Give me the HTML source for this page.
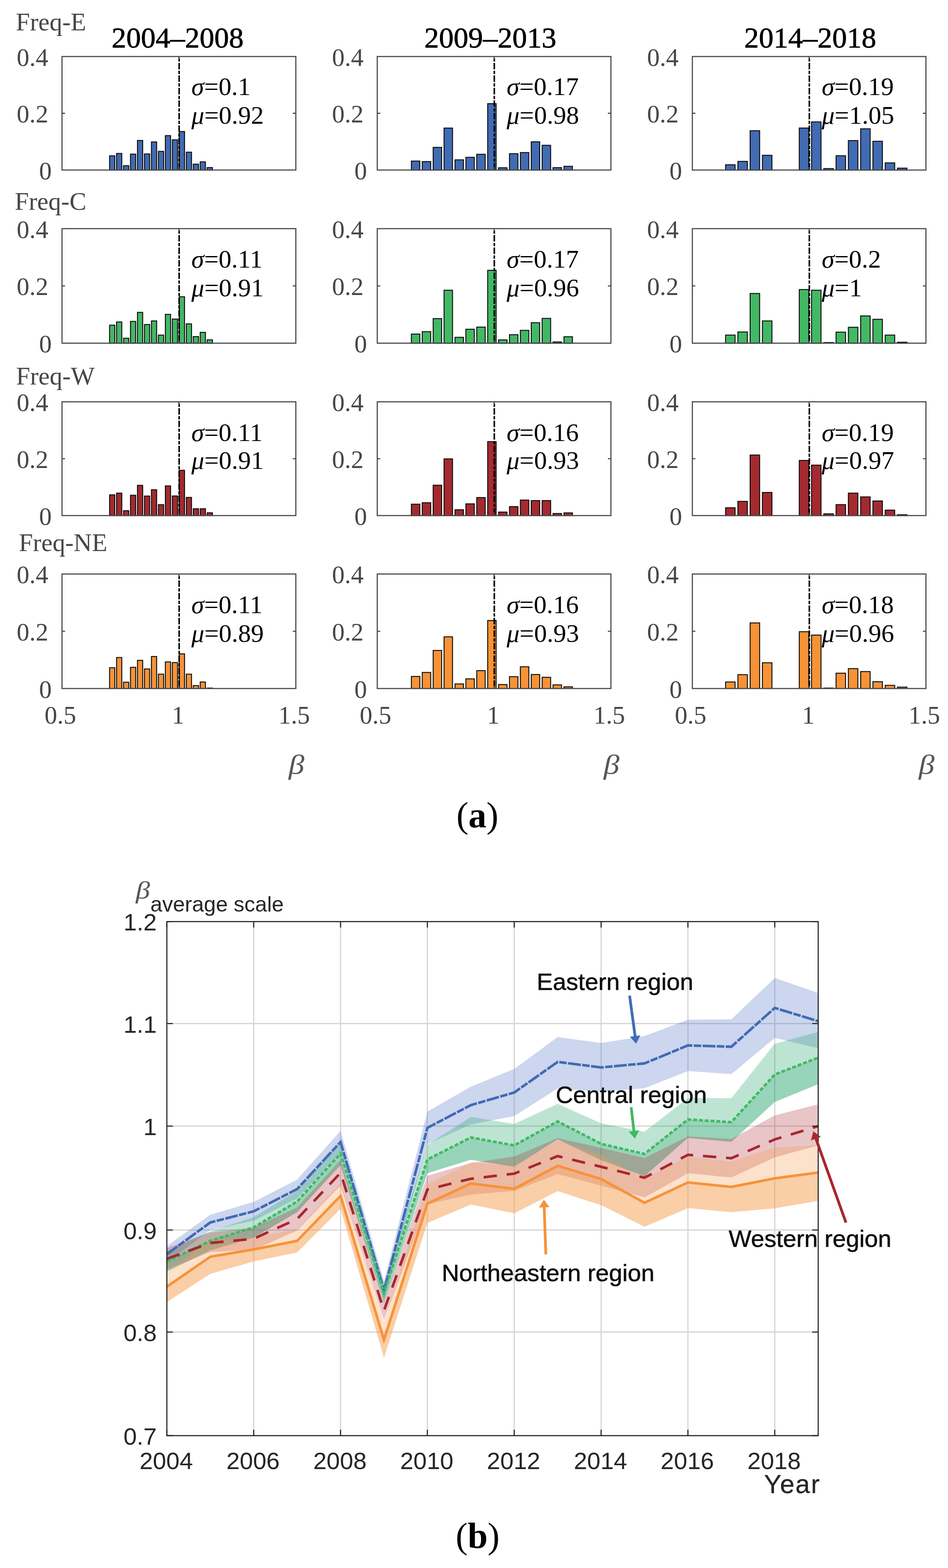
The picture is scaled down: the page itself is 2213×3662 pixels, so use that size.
<!DOCTYPE html>
<html><head><meta charset="utf-8"><title>Figure</title>
<style>html,body{margin:0;padding:0;background:#fff;overflow:hidden;width:2213px;height:3662px;} svg{display:block;}</style>
</head><body>
<svg width="2213" height="3662" viewBox="0 0 2213 3662">
<rect width="2213" height="3662" fill="#fff"/>
<g id="parta">
<rect x="255.8" y="363.9" width="12.2" height="33.2" fill="#416BB3" stroke="#0d0d0d" stroke-width="2.2"/>
<rect x="272.1" y="358.4" width="12.2" height="38.7" fill="#416BB3" stroke="#0d0d0d" stroke-width="2.2"/>
<rect x="288.4" y="387.0" width="12.2" height="10.1" fill="#416BB3" stroke="#0d0d0d" stroke-width="2.2"/>
<rect x="304.6" y="359.9" width="12.2" height="37.2" fill="#416BB3" stroke="#0d0d0d" stroke-width="2.2"/>
<rect x="320.9" y="328.0" width="12.2" height="69.1" fill="#416BB3" stroke="#0d0d0d" stroke-width="2.2"/>
<rect x="337.2" y="359.5" width="12.2" height="37.6" fill="#416BB3" stroke="#0d0d0d" stroke-width="2.2"/>
<rect x="353.5" y="331.5" width="12.2" height="65.6" fill="#416BB3" stroke="#0d0d0d" stroke-width="2.2"/>
<rect x="369.8" y="353.5" width="12.2" height="43.6" fill="#416BB3" stroke="#0d0d0d" stroke-width="2.2"/>
<rect x="386.0" y="316.7" width="12.2" height="80.4" fill="#416BB3" stroke="#0d0d0d" stroke-width="2.2"/>
<rect x="402.3" y="326.5" width="12.2" height="70.6" fill="#416BB3" stroke="#0d0d0d" stroke-width="2.2"/>
<rect x="418.6" y="307.1" width="12.2" height="90.0" fill="#416BB3" stroke="#0d0d0d" stroke-width="2.2"/>
<rect x="434.9" y="355.4" width="12.2" height="41.7" fill="#416BB3" stroke="#0d0d0d" stroke-width="2.2"/>
<rect x="451.2" y="383.4" width="12.2" height="13.7" fill="#416BB3" stroke="#0d0d0d" stroke-width="2.2"/>
<rect x="467.4" y="378.0" width="12.2" height="19.1" fill="#416BB3" stroke="#0d0d0d" stroke-width="2.2"/>
<rect x="483.7" y="391.3" width="12.2" height="5.8" fill="#416BB3" stroke="#0d0d0d" stroke-width="2.2"/>
<line x1="418.2" y1="132.0" x2="418.2" y2="397.1" stroke="#000" stroke-width="3.6" stroke-dasharray="7.7 3.1 15.1 3.3" stroke-dashoffset="-4.1"/>
<rect x="144.8" y="132.0" width="545.8" height="265.1" fill="none" stroke="#474747" stroke-width="2.6"/>
<path d="M144.8 264.6h7M690.6 264.6h-7M417.7 397.1v-7M417.7 132.0v7" stroke="#474747" stroke-width="2.6" fill="none"/>
<text x="112.8" y="153.5" text-anchor="end" font-family="'Liberation Serif', 'Times New Roman', serif" font-size="59" fill="#464646">0.4</text>
<text x="112.8" y="286.1" text-anchor="end" font-family="'Liberation Serif', 'Times New Roman', serif" font-size="59" fill="#464646">0.2</text>
<text x="120.8" y="418.6" text-anchor="end" font-family="'Liberation Serif', 'Times New Roman', serif" font-size="59" fill="#464646">0</text>
<text x="446.8" y="221.7" font-family="'Liberation Serif', 'Times New Roman', serif" font-size="60" fill="#000"><tspan font-style="italic">σ</tspan>=0.1</text>
<text x="446.8" y="288.5" font-family="'Liberation Serif', 'Times New Roman', serif" font-size="60" fill="#000"><tspan font-style="italic">μ</tspan>=0.92</text>
<rect x="960.3" y="376.2" width="19.8" height="20.9" fill="#416BB3" stroke="#0d0d0d" stroke-width="2.2"/>
<rect x="985.7" y="377.4" width="19.8" height="19.7" fill="#416BB3" stroke="#0d0d0d" stroke-width="2.2"/>
<rect x="1011.2" y="344.2" width="19.8" height="52.9" fill="#416BB3" stroke="#0d0d0d" stroke-width="2.2"/>
<rect x="1036.6" y="299.1" width="19.8" height="98.0" fill="#416BB3" stroke="#0d0d0d" stroke-width="2.2"/>
<rect x="1062.1" y="373.3" width="19.8" height="23.8" fill="#416BB3" stroke="#0d0d0d" stroke-width="2.2"/>
<rect x="1087.5" y="367.4" width="19.8" height="29.7" fill="#416BB3" stroke="#0d0d0d" stroke-width="2.2"/>
<rect x="1112.9" y="360.3" width="19.8" height="36.8" fill="#416BB3" stroke="#0d0d0d" stroke-width="2.2"/>
<rect x="1138.4" y="242.1" width="19.8" height="155.0" fill="#416BB3" stroke="#0d0d0d" stroke-width="2.2"/>
<rect x="1163.8" y="391.8" width="19.8" height="5.3" fill="#416BB3" stroke="#0d0d0d" stroke-width="2.2"/>
<rect x="1189.3" y="359.0" width="19.8" height="38.1" fill="#416BB3" stroke="#0d0d0d" stroke-width="2.2"/>
<rect x="1214.7" y="356.3" width="19.8" height="40.8" fill="#416BB3" stroke="#0d0d0d" stroke-width="2.2"/>
<rect x="1240.1" y="331.2" width="19.8" height="65.9" fill="#416BB3" stroke="#0d0d0d" stroke-width="2.2"/>
<rect x="1265.6" y="339.3" width="19.8" height="57.8" fill="#416BB3" stroke="#0d0d0d" stroke-width="2.2"/>
<rect x="1291.0" y="391.5" width="19.8" height="5.6" fill="#416BB3" stroke="#0d0d0d" stroke-width="2.2"/>
<rect x="1316.5" y="388.4" width="19.8" height="8.7" fill="#416BB3" stroke="#0d0d0d" stroke-width="2.2"/>
<line x1="1153.9" y1="132.0" x2="1153.9" y2="397.1" stroke="#000" stroke-width="3.6" stroke-dasharray="7.7 3.1 15.1 3.3" stroke-dashoffset="-4.1"/>
<rect x="880.7" y="132.0" width="545.4" height="265.1" fill="none" stroke="#474747" stroke-width="2.6"/>
<path d="M880.7 264.6h7M1426.1 264.6h-7M1153.4 397.1v-7M1153.4 132.0v7" stroke="#474747" stroke-width="2.6" fill="none"/>
<text x="848.7" y="153.5" text-anchor="end" font-family="'Liberation Serif', 'Times New Roman', serif" font-size="59" fill="#464646">0.4</text>
<text x="848.7" y="286.1" text-anchor="end" font-family="'Liberation Serif', 'Times New Roman', serif" font-size="59" fill="#464646">0.2</text>
<text x="856.7" y="418.6" text-anchor="end" font-family="'Liberation Serif', 'Times New Roman', serif" font-size="59" fill="#464646">0</text>
<text x="1182.7" y="221.7" font-family="'Liberation Serif', 'Times New Roman', serif" font-size="60" fill="#000"><tspan font-style="italic">σ</tspan>=0.17</text>
<text x="1182.7" y="288.5" font-family="'Liberation Serif', 'Times New Roman', serif" font-size="60" fill="#000"><tspan font-style="italic">μ</tspan>=0.98</text>
<rect x="1693.8" y="384.8" width="22.2" height="12.3" fill="#416BB3" stroke="#0d0d0d" stroke-width="2.2"/>
<rect x="1722.5" y="376.9" width="22.2" height="20.2" fill="#416BB3" stroke="#0d0d0d" stroke-width="2.2"/>
<rect x="1751.1" y="305.3" width="22.2" height="91.8" fill="#416BB3" stroke="#0d0d0d" stroke-width="2.2"/>
<rect x="1779.8" y="362.7" width="22.2" height="34.4" fill="#416BB3" stroke="#0d0d0d" stroke-width="2.2"/>
<rect x="1865.8" y="299.0" width="22.2" height="98.1" fill="#416BB3" stroke="#0d0d0d" stroke-width="2.2"/>
<rect x="1894.4" y="284.7" width="22.2" height="112.4" fill="#416BB3" stroke="#0d0d0d" stroke-width="2.2"/>
<rect x="1923.1" y="393.7" width="22.2" height="3.4" fill="#416BB3" stroke="#0d0d0d" stroke-width="2.2"/>
<rect x="1951.7" y="363.7" width="22.2" height="33.4" fill="#416BB3" stroke="#0d0d0d" stroke-width="2.2"/>
<rect x="1980.4" y="328.3" width="22.2" height="68.8" fill="#416BB3" stroke="#0d0d0d" stroke-width="2.2"/>
<rect x="2009.1" y="300.8" width="22.2" height="96.3" fill="#416BB3" stroke="#0d0d0d" stroke-width="2.2"/>
<rect x="2037.7" y="329.9" width="22.2" height="67.2" fill="#416BB3" stroke="#0d0d0d" stroke-width="2.2"/>
<rect x="2066.4" y="380.4" width="22.2" height="16.7" fill="#416BB3" stroke="#0d0d0d" stroke-width="2.2"/>
<rect x="2095.0" y="392.7" width="22.2" height="4.4" fill="#416BB3" stroke="#0d0d0d" stroke-width="2.2"/>
<line x1="1889.3" y1="132.0" x2="1889.3" y2="397.1" stroke="#000" stroke-width="3.6" stroke-dasharray="7.7 3.1 15.1 3.3" stroke-dashoffset="-4.1"/>
<rect x="1616.2" y="132.0" width="545.3" height="265.1" fill="none" stroke="#474747" stroke-width="2.6"/>
<path d="M1616.2 264.6h7M2161.5 264.6h-7M1888.8 397.1v-7M1888.8 132.0v7" stroke="#474747" stroke-width="2.6" fill="none"/>
<text x="1584.2" y="153.5" text-anchor="end" font-family="'Liberation Serif', 'Times New Roman', serif" font-size="59" fill="#464646">0.4</text>
<text x="1584.2" y="286.1" text-anchor="end" font-family="'Liberation Serif', 'Times New Roman', serif" font-size="59" fill="#464646">0.2</text>
<text x="1592.2" y="418.6" text-anchor="end" font-family="'Liberation Serif', 'Times New Roman', serif" font-size="59" fill="#464646">0</text>
<text x="1918.2" y="221.7" font-family="'Liberation Serif', 'Times New Roman', serif" font-size="60" fill="#000"><tspan font-style="italic">σ</tspan>=0.19</text>
<text x="1918.2" y="288.5" font-family="'Liberation Serif', 'Times New Roman', serif" font-size="60" fill="#000"><tspan font-style="italic">μ</tspan>=1.05</text>
<rect x="255.8" y="759.4" width="12.2" height="42.1" fill="#43B864" stroke="#0d0d0d" stroke-width="2.2"/>
<rect x="272.1" y="751.9" width="12.2" height="49.6" fill="#43B864" stroke="#0d0d0d" stroke-width="2.2"/>
<rect x="288.4" y="789.9" width="12.2" height="11.6" fill="#43B864" stroke="#0d0d0d" stroke-width="2.2"/>
<rect x="304.6" y="750.6" width="12.2" height="50.9" fill="#43B864" stroke="#0d0d0d" stroke-width="2.2"/>
<rect x="320.9" y="729.5" width="12.2" height="72.0" fill="#43B864" stroke="#0d0d0d" stroke-width="2.2"/>
<rect x="337.2" y="757.9" width="12.2" height="43.6" fill="#43B864" stroke="#0d0d0d" stroke-width="2.2"/>
<rect x="353.5" y="749.5" width="12.2" height="52.0" fill="#43B864" stroke="#0d0d0d" stroke-width="2.2"/>
<rect x="369.8" y="782.6" width="12.2" height="18.9" fill="#43B864" stroke="#0d0d0d" stroke-width="2.2"/>
<rect x="386.0" y="734.2" width="12.2" height="67.3" fill="#43B864" stroke="#0d0d0d" stroke-width="2.2"/>
<rect x="402.3" y="745.2" width="12.2" height="56.3" fill="#43B864" stroke="#0d0d0d" stroke-width="2.2"/>
<rect x="418.6" y="693.1" width="12.2" height="108.4" fill="#43B864" stroke="#0d0d0d" stroke-width="2.2"/>
<rect x="434.9" y="756.4" width="12.2" height="45.1" fill="#43B864" stroke="#0d0d0d" stroke-width="2.2"/>
<rect x="451.2" y="786.1" width="12.2" height="15.4" fill="#43B864" stroke="#0d0d0d" stroke-width="2.2"/>
<rect x="467.4" y="776.2" width="12.2" height="25.3" fill="#43B864" stroke="#0d0d0d" stroke-width="2.2"/>
<rect x="483.7" y="793.7" width="12.2" height="7.8" fill="#43B864" stroke="#0d0d0d" stroke-width="2.2"/>
<line x1="418.2" y1="534.0" x2="418.2" y2="801.5" stroke="#000" stroke-width="3.6" stroke-dasharray="7.7 3.1 15.1 3.3" stroke-dashoffset="-4.1"/>
<rect x="144.8" y="534.0" width="545.8" height="267.5" fill="none" stroke="#474747" stroke-width="2.6"/>
<path d="M144.8 667.8h7M690.6 667.8h-7M417.7 801.5v-7M417.7 534.0v7" stroke="#474747" stroke-width="2.6" fill="none"/>
<text x="112.8" y="555.5" text-anchor="end" font-family="'Liberation Serif', 'Times New Roman', serif" font-size="59" fill="#464646">0.4</text>
<text x="112.8" y="689.2" text-anchor="end" font-family="'Liberation Serif', 'Times New Roman', serif" font-size="59" fill="#464646">0.2</text>
<text x="120.8" y="823.0" text-anchor="end" font-family="'Liberation Serif', 'Times New Roman', serif" font-size="59" fill="#464646">0</text>
<text x="446.8" y="625.0" font-family="'Liberation Serif', 'Times New Roman', serif" font-size="60" fill="#000"><tspan font-style="italic">σ</tspan>=0.11</text>
<text x="446.8" y="692.0" font-family="'Liberation Serif', 'Times New Roman', serif" font-size="60" fill="#000"><tspan font-style="italic">μ</tspan>=0.91</text>
<rect x="960.3" y="780.2" width="19.8" height="21.3" fill="#43B864" stroke="#0d0d0d" stroke-width="2.2"/>
<rect x="985.7" y="774.6" width="19.8" height="26.9" fill="#43B864" stroke="#0d0d0d" stroke-width="2.2"/>
<rect x="1011.2" y="744.1" width="19.8" height="57.4" fill="#43B864" stroke="#0d0d0d" stroke-width="2.2"/>
<rect x="1036.6" y="677.8" width="19.8" height="123.7" fill="#43B864" stroke="#0d0d0d" stroke-width="2.2"/>
<rect x="1062.1" y="787.8" width="19.8" height="13.7" fill="#43B864" stroke="#0d0d0d" stroke-width="2.2"/>
<rect x="1087.5" y="768.9" width="19.8" height="32.6" fill="#43B864" stroke="#0d0d0d" stroke-width="2.2"/>
<rect x="1112.9" y="763.9" width="19.8" height="37.6" fill="#43B864" stroke="#0d0d0d" stroke-width="2.2"/>
<rect x="1138.4" y="631.3" width="19.8" height="170.2" fill="#43B864" stroke="#0d0d0d" stroke-width="2.2"/>
<rect x="1163.8" y="793.8" width="19.8" height="7.7" fill="#43B864" stroke="#0d0d0d" stroke-width="2.2"/>
<rect x="1189.3" y="781.6" width="19.8" height="19.9" fill="#43B864" stroke="#0d0d0d" stroke-width="2.2"/>
<rect x="1214.7" y="771.5" width="19.8" height="30.0" fill="#43B864" stroke="#0d0d0d" stroke-width="2.2"/>
<rect x="1240.1" y="753.7" width="19.8" height="47.8" fill="#43B864" stroke="#0d0d0d" stroke-width="2.2"/>
<rect x="1265.6" y="743.6" width="19.8" height="57.9" fill="#43B864" stroke="#0d0d0d" stroke-width="2.2"/>
<rect x="1291.0" y="798.6" width="19.8" height="2.9" fill="#43B864" stroke="#0d0d0d" stroke-width="2.2"/>
<rect x="1316.5" y="786.4" width="19.8" height="15.1" fill="#43B864" stroke="#0d0d0d" stroke-width="2.2"/>
<line x1="1153.9" y1="534.0" x2="1153.9" y2="801.5" stroke="#000" stroke-width="3.6" stroke-dasharray="7.7 3.1 15.1 3.3" stroke-dashoffset="-4.1"/>
<rect x="880.7" y="534.0" width="545.4" height="267.5" fill="none" stroke="#474747" stroke-width="2.6"/>
<path d="M880.7 667.8h7M1426.1 667.8h-7M1153.4 801.5v-7M1153.4 534.0v7" stroke="#474747" stroke-width="2.6" fill="none"/>
<text x="848.7" y="555.5" text-anchor="end" font-family="'Liberation Serif', 'Times New Roman', serif" font-size="59" fill="#464646">0.4</text>
<text x="848.7" y="689.2" text-anchor="end" font-family="'Liberation Serif', 'Times New Roman', serif" font-size="59" fill="#464646">0.2</text>
<text x="856.7" y="823.0" text-anchor="end" font-family="'Liberation Serif', 'Times New Roman', serif" font-size="59" fill="#464646">0</text>
<text x="1182.7" y="625.0" font-family="'Liberation Serif', 'Times New Roman', serif" font-size="60" fill="#000"><tspan font-style="italic">σ</tspan>=0.17</text>
<text x="1182.7" y="692.0" font-family="'Liberation Serif', 'Times New Roman', serif" font-size="60" fill="#000"><tspan font-style="italic">μ</tspan>=0.96</text>
<rect x="1693.8" y="782.6" width="22.2" height="18.9" fill="#43B864" stroke="#0d0d0d" stroke-width="2.2"/>
<rect x="1722.5" y="775.3" width="22.2" height="26.2" fill="#43B864" stroke="#0d0d0d" stroke-width="2.2"/>
<rect x="1751.1" y="685.4" width="22.2" height="116.1" fill="#43B864" stroke="#0d0d0d" stroke-width="2.2"/>
<rect x="1779.8" y="749.5" width="22.2" height="52.0" fill="#43B864" stroke="#0d0d0d" stroke-width="2.2"/>
<rect x="1865.8" y="676.2" width="22.2" height="125.3" fill="#43B864" stroke="#0d0d0d" stroke-width="2.2"/>
<rect x="1894.4" y="677.8" width="22.2" height="123.7" fill="#43B864" stroke="#0d0d0d" stroke-width="2.2"/>
<rect x="1922.0" y="798.9" width="24.4" height="2.6" fill="#111"/>
<rect x="1951.7" y="775.7" width="22.2" height="25.8" fill="#43B864" stroke="#0d0d0d" stroke-width="2.2"/>
<rect x="1980.4" y="764.3" width="22.2" height="37.2" fill="#43B864" stroke="#0d0d0d" stroke-width="2.2"/>
<rect x="2009.1" y="737.8" width="22.2" height="63.7" fill="#43B864" stroke="#0d0d0d" stroke-width="2.2"/>
<rect x="2037.7" y="745.7" width="22.2" height="55.8" fill="#43B864" stroke="#0d0d0d" stroke-width="2.2"/>
<rect x="2066.4" y="782.6" width="22.2" height="18.9" fill="#43B864" stroke="#0d0d0d" stroke-width="2.2"/>
<rect x="2095.0" y="799.3" width="22.2" height="2.2" fill="#43B864" stroke="#0d0d0d" stroke-width="2.2"/>
<line x1="1889.3" y1="534.0" x2="1889.3" y2="801.5" stroke="#000" stroke-width="3.6" stroke-dasharray="7.7 3.1 15.1 3.3" stroke-dashoffset="-4.1"/>
<rect x="1616.2" y="534.0" width="545.3" height="267.5" fill="none" stroke="#474747" stroke-width="2.6"/>
<path d="M1616.2 667.8h7M2161.5 667.8h-7M1888.8 801.5v-7M1888.8 534.0v7" stroke="#474747" stroke-width="2.6" fill="none"/>
<text x="1584.2" y="555.5" text-anchor="end" font-family="'Liberation Serif', 'Times New Roman', serif" font-size="59" fill="#464646">0.4</text>
<text x="1584.2" y="689.2" text-anchor="end" font-family="'Liberation Serif', 'Times New Roman', serif" font-size="59" fill="#464646">0.2</text>
<text x="1592.2" y="823.0" text-anchor="end" font-family="'Liberation Serif', 'Times New Roman', serif" font-size="59" fill="#464646">0</text>
<text x="1918.2" y="625.0" font-family="'Liberation Serif', 'Times New Roman', serif" font-size="60" fill="#000"><tspan font-style="italic">σ</tspan>=0.2</text>
<text x="1918.2" y="692.0" font-family="'Liberation Serif', 'Times New Roman', serif" font-size="60" fill="#000"><tspan font-style="italic">μ</tspan>=1</text>
<rect x="255.8" y="1155.7" width="12.2" height="48.4" fill="#A42A30" stroke="#0d0d0d" stroke-width="2.2"/>
<rect x="272.1" y="1151.7" width="12.2" height="52.4" fill="#A42A30" stroke="#0d0d0d" stroke-width="2.2"/>
<rect x="288.4" y="1192.7" width="12.2" height="11.4" fill="#A42A30" stroke="#0d0d0d" stroke-width="2.2"/>
<rect x="304.6" y="1156.6" width="12.2" height="47.5" fill="#A42A30" stroke="#0d0d0d" stroke-width="2.2"/>
<rect x="320.9" y="1133.5" width="12.2" height="70.6" fill="#A42A30" stroke="#0d0d0d" stroke-width="2.2"/>
<rect x="337.2" y="1158.5" width="12.2" height="45.6" fill="#A42A30" stroke="#0d0d0d" stroke-width="2.2"/>
<rect x="353.5" y="1143.8" width="12.2" height="60.3" fill="#A42A30" stroke="#0d0d0d" stroke-width="2.2"/>
<rect x="369.8" y="1178.6" width="12.2" height="25.5" fill="#A42A30" stroke="#0d0d0d" stroke-width="2.2"/>
<rect x="386.0" y="1134.8" width="12.2" height="69.3" fill="#A42A30" stroke="#0d0d0d" stroke-width="2.2"/>
<rect x="402.3" y="1158.3" width="12.2" height="45.8" fill="#A42A30" stroke="#0d0d0d" stroke-width="2.2"/>
<rect x="418.6" y="1098.3" width="12.2" height="105.8" fill="#A42A30" stroke="#0d0d0d" stroke-width="2.2"/>
<rect x="434.9" y="1161.7" width="12.2" height="42.4" fill="#A42A30" stroke="#0d0d0d" stroke-width="2.2"/>
<rect x="451.2" y="1188.2" width="12.2" height="15.9" fill="#A42A30" stroke="#0d0d0d" stroke-width="2.2"/>
<rect x="467.4" y="1188.2" width="12.2" height="15.9" fill="#A42A30" stroke="#0d0d0d" stroke-width="2.2"/>
<rect x="483.7" y="1197.6" width="12.2" height="6.5" fill="#A42A30" stroke="#0d0d0d" stroke-width="2.2"/>
<line x1="418.2" y1="938.4" x2="418.2" y2="1204.1" stroke="#000" stroke-width="3.6" stroke-dasharray="7.7 3.1 15.1 3.3" stroke-dashoffset="-4.1"/>
<rect x="144.8" y="938.4" width="545.8" height="265.7" fill="none" stroke="#474747" stroke-width="2.6"/>
<path d="M144.8 1071.2h7M690.6 1071.2h-7M417.7 1204.1v-7M417.7 938.4v7" stroke="#474747" stroke-width="2.6" fill="none"/>
<text x="112.8" y="959.9" text-anchor="end" font-family="'Liberation Serif', 'Times New Roman', serif" font-size="59" fill="#464646">0.4</text>
<text x="112.8" y="1092.8" text-anchor="end" font-family="'Liberation Serif', 'Times New Roman', serif" font-size="59" fill="#464646">0.2</text>
<text x="120.8" y="1225.6" text-anchor="end" font-family="'Liberation Serif', 'Times New Roman', serif" font-size="59" fill="#464646">0</text>
<text x="446.8" y="1029.7" font-family="'Liberation Serif', 'Times New Roman', serif" font-size="60" fill="#000"><tspan font-style="italic">σ</tspan>=0.11</text>
<text x="446.8" y="1094.8" font-family="'Liberation Serif', 'Times New Roman', serif" font-size="60" fill="#000"><tspan font-style="italic">μ</tspan>=0.91</text>
<rect x="960.3" y="1177.5" width="19.8" height="26.6" fill="#A42A30" stroke="#0d0d0d" stroke-width="2.2"/>
<rect x="985.7" y="1174.1" width="19.8" height="30.0" fill="#A42A30" stroke="#0d0d0d" stroke-width="2.2"/>
<rect x="1011.2" y="1133.2" width="19.8" height="70.9" fill="#A42A30" stroke="#0d0d0d" stroke-width="2.2"/>
<rect x="1036.6" y="1071.7" width="19.8" height="132.4" fill="#A42A30" stroke="#0d0d0d" stroke-width="2.2"/>
<rect x="1062.1" y="1190.5" width="19.8" height="13.6" fill="#A42A30" stroke="#0d0d0d" stroke-width="2.2"/>
<rect x="1087.5" y="1176.7" width="19.8" height="27.4" fill="#A42A30" stroke="#0d0d0d" stroke-width="2.2"/>
<rect x="1112.9" y="1162.0" width="19.8" height="42.1" fill="#A42A30" stroke="#0d0d0d" stroke-width="2.2"/>
<rect x="1138.4" y="1031.4" width="19.8" height="172.7" fill="#A42A30" stroke="#0d0d0d" stroke-width="2.2"/>
<rect x="1163.8" y="1195.9" width="19.8" height="8.2" fill="#A42A30" stroke="#0d0d0d" stroke-width="2.2"/>
<rect x="1189.3" y="1183.2" width="19.8" height="20.9" fill="#A42A30" stroke="#0d0d0d" stroke-width="2.2"/>
<rect x="1214.7" y="1167.9" width="19.8" height="36.2" fill="#A42A30" stroke="#0d0d0d" stroke-width="2.2"/>
<rect x="1240.1" y="1169.1" width="19.8" height="35.0" fill="#A42A30" stroke="#0d0d0d" stroke-width="2.2"/>
<rect x="1265.6" y="1169.1" width="19.8" height="35.0" fill="#A42A30" stroke="#0d0d0d" stroke-width="2.2"/>
<rect x="1291.0" y="1199.3" width="19.8" height="4.8" fill="#A42A30" stroke="#0d0d0d" stroke-width="2.2"/>
<rect x="1316.5" y="1197.8" width="19.8" height="6.3" fill="#A42A30" stroke="#0d0d0d" stroke-width="2.2"/>
<line x1="1153.9" y1="938.4" x2="1153.9" y2="1204.1" stroke="#000" stroke-width="3.6" stroke-dasharray="7.7 3.1 15.1 3.3" stroke-dashoffset="-4.1"/>
<rect x="880.7" y="938.4" width="545.4" height="265.7" fill="none" stroke="#474747" stroke-width="2.6"/>
<path d="M880.7 1071.2h7M1426.1 1071.2h-7M1153.4 1204.1v-7M1153.4 938.4v7" stroke="#474747" stroke-width="2.6" fill="none"/>
<text x="848.7" y="959.9" text-anchor="end" font-family="'Liberation Serif', 'Times New Roman', serif" font-size="59" fill="#464646">0.4</text>
<text x="848.7" y="1092.8" text-anchor="end" font-family="'Liberation Serif', 'Times New Roman', serif" font-size="59" fill="#464646">0.2</text>
<text x="856.7" y="1225.6" text-anchor="end" font-family="'Liberation Serif', 'Times New Roman', serif" font-size="59" fill="#464646">0</text>
<text x="1182.7" y="1029.7" font-family="'Liberation Serif', 'Times New Roman', serif" font-size="60" fill="#000"><tspan font-style="italic">σ</tspan>=0.16</text>
<text x="1182.7" y="1094.8" font-family="'Liberation Serif', 'Times New Roman', serif" font-size="60" fill="#000"><tspan font-style="italic">μ</tspan>=0.93</text>
<rect x="1693.8" y="1185.8" width="22.2" height="18.3" fill="#A42A30" stroke="#0d0d0d" stroke-width="2.2"/>
<rect x="1722.5" y="1170.9" width="22.2" height="33.2" fill="#A42A30" stroke="#0d0d0d" stroke-width="2.2"/>
<rect x="1751.1" y="1062.7" width="22.2" height="141.4" fill="#A42A30" stroke="#0d0d0d" stroke-width="2.2"/>
<rect x="1779.8" y="1150.1" width="22.2" height="54.0" fill="#A42A30" stroke="#0d0d0d" stroke-width="2.2"/>
<rect x="1865.8" y="1075.3" width="22.2" height="128.8" fill="#A42A30" stroke="#0d0d0d" stroke-width="2.2"/>
<rect x="1894.4" y="1086.3" width="22.2" height="117.8" fill="#A42A30" stroke="#0d0d0d" stroke-width="2.2"/>
<rect x="1923.1" y="1200.0" width="22.2" height="4.1" fill="#A42A30" stroke="#0d0d0d" stroke-width="2.2"/>
<rect x="1951.7" y="1178.5" width="22.2" height="25.6" fill="#A42A30" stroke="#0d0d0d" stroke-width="2.2"/>
<rect x="1980.4" y="1151.7" width="22.2" height="52.4" fill="#A42A30" stroke="#0d0d0d" stroke-width="2.2"/>
<rect x="2009.1" y="1160.5" width="22.2" height="43.6" fill="#A42A30" stroke="#0d0d0d" stroke-width="2.2"/>
<rect x="2037.7" y="1170.0" width="22.2" height="34.1" fill="#A42A30" stroke="#0d0d0d" stroke-width="2.2"/>
<rect x="2066.4" y="1191.4" width="22.2" height="12.7" fill="#A42A30" stroke="#0d0d0d" stroke-width="2.2"/>
<rect x="2095.0" y="1202.2" width="22.2" height="1.9" fill="#A42A30" stroke="#0d0d0d" stroke-width="2.2"/>
<line x1="1889.3" y1="938.4" x2="1889.3" y2="1204.1" stroke="#000" stroke-width="3.6" stroke-dasharray="7.7 3.1 15.1 3.3" stroke-dashoffset="-4.1"/>
<rect x="1616.2" y="938.4" width="545.3" height="265.7" fill="none" stroke="#474747" stroke-width="2.6"/>
<path d="M1616.2 1071.2h7M2161.5 1071.2h-7M1888.8 1204.1v-7M1888.8 938.4v7" stroke="#474747" stroke-width="2.6" fill="none"/>
<text x="1584.2" y="959.9" text-anchor="end" font-family="'Liberation Serif', 'Times New Roman', serif" font-size="59" fill="#464646">0.4</text>
<text x="1584.2" y="1092.8" text-anchor="end" font-family="'Liberation Serif', 'Times New Roman', serif" font-size="59" fill="#464646">0.2</text>
<text x="1592.2" y="1225.6" text-anchor="end" font-family="'Liberation Serif', 'Times New Roman', serif" font-size="59" fill="#464646">0</text>
<text x="1918.2" y="1029.7" font-family="'Liberation Serif', 'Times New Roman', serif" font-size="60" fill="#000"><tspan font-style="italic">σ</tspan>=0.19</text>
<text x="1918.2" y="1094.8" font-family="'Liberation Serif', 'Times New Roman', serif" font-size="60" fill="#000"><tspan font-style="italic">μ</tspan>=0.97</text>
<rect x="255.8" y="1559.5" width="12.2" height="48.5" fill="#F79336" stroke="#0d0d0d" stroke-width="2.2"/>
<rect x="272.1" y="1535.6" width="12.2" height="72.4" fill="#F79336" stroke="#0d0d0d" stroke-width="2.2"/>
<rect x="288.4" y="1593.3" width="12.2" height="14.7" fill="#F79336" stroke="#0d0d0d" stroke-width="2.2"/>
<rect x="304.6" y="1558.5" width="12.2" height="49.5" fill="#F79336" stroke="#0d0d0d" stroke-width="2.2"/>
<rect x="320.9" y="1542.2" width="12.2" height="65.8" fill="#F79336" stroke="#0d0d0d" stroke-width="2.2"/>
<rect x="337.2" y="1562.3" width="12.2" height="45.7" fill="#F79336" stroke="#0d0d0d" stroke-width="2.2"/>
<rect x="353.5" y="1533.2" width="12.2" height="74.8" fill="#F79336" stroke="#0d0d0d" stroke-width="2.2"/>
<rect x="369.8" y="1574.5" width="12.2" height="33.5" fill="#F79336" stroke="#0d0d0d" stroke-width="2.2"/>
<rect x="386.0" y="1545.9" width="12.2" height="62.1" fill="#F79336" stroke="#0d0d0d" stroke-width="2.2"/>
<rect x="402.3" y="1547.4" width="12.2" height="60.6" fill="#F79336" stroke="#0d0d0d" stroke-width="2.2"/>
<rect x="418.6" y="1527.1" width="12.2" height="80.9" fill="#F79336" stroke="#0d0d0d" stroke-width="2.2"/>
<rect x="434.9" y="1574.5" width="12.2" height="33.5" fill="#F79336" stroke="#0d0d0d" stroke-width="2.2"/>
<rect x="451.2" y="1601.2" width="12.2" height="6.8" fill="#F79336" stroke="#0d0d0d" stroke-width="2.2"/>
<rect x="467.4" y="1592.8" width="12.2" height="15.2" fill="#F79336" stroke="#0d0d0d" stroke-width="2.2"/>
<rect x="482.6" y="1605.8" width="14.4" height="2.2" fill="#111"/>
<line x1="418.2" y1="1340.6" x2="418.2" y2="1608.0" stroke="#000" stroke-width="3.6" stroke-dasharray="7.7 3.1 15.1 3.3" stroke-dashoffset="-4.1"/>
<rect x="144.8" y="1340.6" width="545.8" height="267.4" fill="none" stroke="#474747" stroke-width="2.6"/>
<path d="M144.8 1474.3h7M690.6 1474.3h-7M417.7 1608.0v-7M417.7 1340.6v7" stroke="#474747" stroke-width="2.6" fill="none"/>
<text x="112.8" y="1362.1" text-anchor="end" font-family="'Liberation Serif', 'Times New Roman', serif" font-size="59" fill="#464646">0.4</text>
<text x="112.8" y="1495.8" text-anchor="end" font-family="'Liberation Serif', 'Times New Roman', serif" font-size="59" fill="#464646">0.2</text>
<text x="120.8" y="1629.5" text-anchor="end" font-family="'Liberation Serif', 'Times New Roman', serif" font-size="59" fill="#464646">0</text>
<text x="446.8" y="1432.1" font-family="'Liberation Serif', 'Times New Roman', serif" font-size="60" fill="#000"><tspan font-style="italic">σ</tspan>=0.11</text>
<text x="446.8" y="1499.3" font-family="'Liberation Serif', 'Times New Roman', serif" font-size="60" fill="#000"><tspan font-style="italic">μ</tspan>=0.89</text>
<rect x="960.3" y="1579.8" width="19.8" height="28.2" fill="#F79336" stroke="#0d0d0d" stroke-width="2.2"/>
<rect x="985.7" y="1570.5" width="19.8" height="37.5" fill="#F79336" stroke="#0d0d0d" stroke-width="2.2"/>
<rect x="1011.2" y="1519.1" width="19.8" height="88.9" fill="#F79336" stroke="#0d0d0d" stroke-width="2.2"/>
<rect x="1036.6" y="1487.3" width="19.8" height="120.7" fill="#F79336" stroke="#0d0d0d" stroke-width="2.2"/>
<rect x="1062.1" y="1597.3" width="19.8" height="10.7" fill="#F79336" stroke="#0d0d0d" stroke-width="2.2"/>
<rect x="1087.5" y="1585.4" width="19.8" height="22.6" fill="#F79336" stroke="#0d0d0d" stroke-width="2.2"/>
<rect x="1112.9" y="1566.2" width="19.8" height="41.8" fill="#F79336" stroke="#0d0d0d" stroke-width="2.2"/>
<rect x="1138.4" y="1449.2" width="19.8" height="158.8" fill="#F79336" stroke="#0d0d0d" stroke-width="2.2"/>
<rect x="1163.8" y="1598.7" width="19.8" height="9.3" fill="#F79336" stroke="#0d0d0d" stroke-width="2.2"/>
<rect x="1189.3" y="1580.4" width="19.8" height="27.6" fill="#F79336" stroke="#0d0d0d" stroke-width="2.2"/>
<rect x="1214.7" y="1557.2" width="19.8" height="50.8" fill="#F79336" stroke="#0d0d0d" stroke-width="2.2"/>
<rect x="1240.1" y="1575.3" width="19.8" height="32.7" fill="#F79336" stroke="#0d0d0d" stroke-width="2.2"/>
<rect x="1265.6" y="1581.8" width="19.8" height="26.2" fill="#F79336" stroke="#0d0d0d" stroke-width="2.2"/>
<rect x="1291.0" y="1599.5" width="19.8" height="8.5" fill="#F79336" stroke="#0d0d0d" stroke-width="2.2"/>
<rect x="1316.5" y="1604.1" width="19.8" height="3.9" fill="#F79336" stroke="#0d0d0d" stroke-width="2.2"/>
<line x1="1153.9" y1="1340.6" x2="1153.9" y2="1608.0" stroke="#000" stroke-width="3.6" stroke-dasharray="7.7 3.1 15.1 3.3" stroke-dashoffset="-4.1"/>
<rect x="880.7" y="1340.6" width="545.4" height="267.4" fill="none" stroke="#474747" stroke-width="2.6"/>
<path d="M880.7 1474.3h7M1426.1 1474.3h-7M1153.4 1608.0v-7M1153.4 1340.6v7" stroke="#474747" stroke-width="2.6" fill="none"/>
<text x="848.7" y="1362.1" text-anchor="end" font-family="'Liberation Serif', 'Times New Roman', serif" font-size="59" fill="#464646">0.4</text>
<text x="848.7" y="1495.8" text-anchor="end" font-family="'Liberation Serif', 'Times New Roman', serif" font-size="59" fill="#464646">0.2</text>
<text x="856.7" y="1629.5" text-anchor="end" font-family="'Liberation Serif', 'Times New Roman', serif" font-size="59" fill="#464646">0</text>
<text x="1182.7" y="1432.1" font-family="'Liberation Serif', 'Times New Roman', serif" font-size="60" fill="#000"><tspan font-style="italic">σ</tspan>=0.16</text>
<text x="1182.7" y="1499.3" font-family="'Liberation Serif', 'Times New Roman', serif" font-size="60" fill="#000"><tspan font-style="italic">μ</tspan>=0.93</text>
<rect x="1693.8" y="1592.7" width="22.2" height="15.3" fill="#F79336" stroke="#0d0d0d" stroke-width="2.2"/>
<rect x="1722.5" y="1575.7" width="22.2" height="32.3" fill="#F79336" stroke="#0d0d0d" stroke-width="2.2"/>
<rect x="1751.1" y="1454.8" width="22.2" height="153.2" fill="#F79336" stroke="#0d0d0d" stroke-width="2.2"/>
<rect x="1779.8" y="1547.9" width="22.2" height="60.1" fill="#F79336" stroke="#0d0d0d" stroke-width="2.2"/>
<rect x="1865.8" y="1475.3" width="22.2" height="132.7" fill="#F79336" stroke="#0d0d0d" stroke-width="2.2"/>
<rect x="1894.4" y="1483.2" width="22.2" height="124.8" fill="#F79336" stroke="#0d0d0d" stroke-width="2.2"/>
<rect x="1922.0" y="1605.8" width="24.4" height="2.2" fill="#111"/>
<rect x="1951.7" y="1572.2" width="22.2" height="35.8" fill="#F79336" stroke="#0d0d0d" stroke-width="2.2"/>
<rect x="1980.4" y="1561.5" width="22.2" height="46.5" fill="#F79336" stroke="#0d0d0d" stroke-width="2.2"/>
<rect x="2009.1" y="1568.4" width="22.2" height="39.6" fill="#F79336" stroke="#0d0d0d" stroke-width="2.2"/>
<rect x="2037.7" y="1592.1" width="22.2" height="15.9" fill="#F79336" stroke="#0d0d0d" stroke-width="2.2"/>
<rect x="2066.4" y="1600.6" width="22.2" height="7.4" fill="#F79336" stroke="#0d0d0d" stroke-width="2.2"/>
<rect x="2095.0" y="1604.7" width="22.2" height="3.3" fill="#F79336" stroke="#0d0d0d" stroke-width="2.2"/>
<line x1="1889.3" y1="1340.6" x2="1889.3" y2="1608.0" stroke="#000" stroke-width="3.6" stroke-dasharray="7.7 3.1 15.1 3.3" stroke-dashoffset="-4.1"/>
<rect x="1616.2" y="1340.6" width="545.3" height="267.4" fill="none" stroke="#474747" stroke-width="2.6"/>
<path d="M1616.2 1474.3h7M2161.5 1474.3h-7M1888.8 1608.0v-7M1888.8 1340.6v7" stroke="#474747" stroke-width="2.6" fill="none"/>
<text x="1584.2" y="1362.1" text-anchor="end" font-family="'Liberation Serif', 'Times New Roman', serif" font-size="59" fill="#464646">0.4</text>
<text x="1584.2" y="1495.8" text-anchor="end" font-family="'Liberation Serif', 'Times New Roman', serif" font-size="59" fill="#464646">0.2</text>
<text x="1592.2" y="1629.5" text-anchor="end" font-family="'Liberation Serif', 'Times New Roman', serif" font-size="59" fill="#464646">0</text>
<text x="1918.2" y="1432.1" font-family="'Liberation Serif', 'Times New Roman', serif" font-size="60" fill="#000"><tspan font-style="italic">σ</tspan>=0.18</text>
<text x="1918.2" y="1499.3" font-family="'Liberation Serif', 'Times New Roman', serif" font-size="60" fill="#000"><tspan font-style="italic">μ</tspan>=0.96</text>
<text x="37.1" y="70.8" font-family="'Liberation Serif', 'Times New Roman', serif" font-size="59" fill="#464646">Freq-E</text>
<text x="34.4" y="490.0" font-family="'Liberation Serif', 'Times New Roman', serif" font-size="59" fill="#464646">Freq-C</text>
<text x="37.4" y="897.6" font-family="'Liberation Serif', 'Times New Roman', serif" font-size="59" fill="#464646">Freq-W</text>
<text x="44.0" y="1287.0" font-family="'Liberation Serif', 'Times New Roman', serif" font-size="59" fill="#464646">Freq-NE</text>
<text x="414.7" y="111" text-anchor="middle" font-family="'Liberation Serif', 'Times New Roman', serif" font-size="68.5" fill="#000" stroke="#000" stroke-width="0.9">2004–2008</text>
<text x="1144.5" y="111" text-anchor="middle" font-family="'Liberation Serif', 'Times New Roman', serif" font-size="68.5" fill="#000" stroke="#000" stroke-width="0.9">2009–2013</text>
<text x="1891.4" y="111" text-anchor="middle" font-family="'Liberation Serif', 'Times New Roman', serif" font-size="68.5" fill="#000" stroke="#000" stroke-width="0.9">2014–2018</text>
<text x="140.8" y="1689.7" text-anchor="middle" font-family="'Liberation Serif', 'Times New Roman', serif" font-size="59" fill="#464646">0.5</text>
<text x="415.7" y="1689.7" text-anchor="middle" font-family="'Liberation Serif', 'Times New Roman', serif" font-size="59" fill="#464646">1</text>
<text x="686.6" y="1689.7" text-anchor="middle" font-family="'Liberation Serif', 'Times New Roman', serif" font-size="59" fill="#464646">1.5</text>
<text transform="translate(692.1 1807) scale(1.15 1)" text-anchor="middle" font-family="'Liberation Serif', 'Times New Roman', serif" font-style="italic" font-size="64" fill="#555">β</text>
<text x="876.7" y="1689.7" text-anchor="middle" font-family="'Liberation Serif', 'Times New Roman', serif" font-size="59" fill="#464646">0.5</text>
<text x="1151.4" y="1689.7" text-anchor="middle" font-family="'Liberation Serif', 'Times New Roman', serif" font-size="59" fill="#464646">1</text>
<text x="1422.1" y="1689.7" text-anchor="middle" font-family="'Liberation Serif', 'Times New Roman', serif" font-size="59" fill="#464646">1.5</text>
<text transform="translate(1427.6 1807) scale(1.15 1)" text-anchor="middle" font-family="'Liberation Serif', 'Times New Roman', serif" font-style="italic" font-size="64" fill="#555">β</text>
<text x="1612.2" y="1689.7" text-anchor="middle" font-family="'Liberation Serif', 'Times New Roman', serif" font-size="59" fill="#464646">0.5</text>
<text x="1886.8" y="1689.7" text-anchor="middle" font-family="'Liberation Serif', 'Times New Roman', serif" font-size="59" fill="#464646">1</text>
<text x="2157.5" y="1689.7" text-anchor="middle" font-family="'Liberation Serif', 'Times New Roman', serif" font-size="59" fill="#464646">1.5</text>
<text transform="translate(2163.0 1807) scale(1.15 1)" text-anchor="middle" font-family="'Liberation Serif', 'Times New Roman', serif" font-style="italic" font-size="64" fill="#555">β</text>
<text x="1114.5" y="1931.7" text-anchor="middle" font-family="'Liberation Serif', 'Times New Roman', serif" font-size="84" fill="#000">(<tspan font-weight="bold">a</tspan>)</text>
</g>
<g id="partb">
<path d="M592.2 2152.3V3352.9M795.0 2152.3V3352.9M997.7 2152.3V3352.9M1200.4 2152.3V3352.9M1403.2 2152.3V3352.9M1605.9 2152.3V3352.9M1808.6 2152.3V3352.9M389.5 3111.0H1910.0M389.5 2872.7H1910.0M389.5 2630.0H1910.0M389.5 2390.5H1910.0" stroke="#d6d6d6" stroke-width="2.8" fill="none"/>
<path d="M389.5 2910.0L490.9 2837.0L592.2 2807.0L693.6 2755.0L795.0 2641.0L896.3 2992.0L997.7 2596.0L1099.1 2538.0L1200.4 2496.5L1301.8 2422.0L1403.2 2436.0L1504.5 2419.5L1605.9 2381.5L1707.3 2380.6L1808.6 2284.0L1910.0 2319.0L1910.0 2448.0L1808.6 2424.0L1707.3 2508.6L1605.9 2501.5L1504.5 2541.5L1403.2 2550.0L1301.8 2542.0L1200.4 2606.5L1099.1 2626.0L997.7 2672.0L896.3 3036.0L795.0 2693.0L693.6 2799.0L592.2 2851.0L490.9 2873.0L389.5 2948.0Z" fill="#5576C6" fill-opacity="0.3"/>
<path d="M389.5 2922.0L490.9 2876.0L592.2 2842.5L693.6 2781.0L795.0 2667.0L896.3 2998.0L997.7 2674.0L1099.1 2608.5L1200.4 2625.0L1301.8 2578.0L1403.2 2623.4L1504.5 2643.0L1605.9 2564.5L1707.3 2564.7L1808.6 2437.5L1910.0 2410.0L1910.0 2532.0L1808.6 2573.5L1707.3 2666.7L1605.9 2657.5L1504.5 2747.0L1403.2 2709.4L1301.8 2661.0L1200.4 2725.0L1099.1 2708.5L997.7 2740.0L896.3 3042.0L795.0 2721.0L693.6 2831.0L592.2 2890.5L490.9 2920.0L389.5 2970.0Z" fill="#26A56C" fill-opacity="0.3"/>
<path d="M389.5 2946.0L490.9 2898.0L592.2 2866.5L693.6 2806.0L795.0 2694.0L896.3 3020.0L997.7 2708.0L1099.1 2656.5L1200.4 2675.0L1301.8 2619.0L1403.2 2671.4L1504.5 2695.0L1605.9 2614.5L1707.3 2620.7L1808.6 2509.5L1910.0 2470.0L1910.0 2532.0L1808.6 2573.5L1707.3 2666.7L1605.9 2657.5L1504.5 2747.0L1403.2 2709.4L1301.8 2661.0L1200.4 2725.0L1099.1 2708.5L997.7 2740.0L896.3 3042.0L795.0 2721.0L693.6 2831.0L592.2 2890.5L490.9 2920.0L389.5 2970.0Z" fill="#26A56C" fill-opacity="0.25"/>
<path d="M389.5 2915.0L490.9 2878.0L592.2 2867.0L693.6 2820.0L795.0 2709.0L896.3 3039.0L997.7 2746.0L1099.1 2716.0L1200.4 2701.0L1301.8 2658.0L1403.2 2681.0L1504.5 2704.5L1605.9 2654.0L1707.3 2660.0L1808.6 2605.0L1910.0 2579.0L1910.0 2675.0L1808.6 2703.0L1707.3 2750.0L1605.9 2740.0L1504.5 2796.5L1403.2 2769.0L1301.8 2742.0L1200.4 2781.0L1099.1 2790.0L997.7 2812.0L896.3 3083.0L795.0 2769.0L693.6 2874.0L592.2 2919.0L490.9 2924.0L389.5 2965.0Z" fill="#B0303A" fill-opacity="0.28"/>
<path d="M389.5 2969.0L490.9 2895.0L592.2 2890.0L693.6 2871.0L795.0 2763.0L896.3 3087.0L997.7 2766.0L1099.1 2715.0L1200.4 2722.4L1301.8 2663.7L1403.2 2697.5L1504.5 2753.0L1605.9 2701.6L1707.3 2713.0L1808.6 2680.0L1910.0 2674.5L1910.0 2804.5L1808.6 2822.0L1707.3 2831.0L1605.9 2821.6L1504.5 2865.0L1403.2 2814.5L1301.8 2781.7L1200.4 2833.4L1099.1 2813.0L997.7 2856.0L896.3 3171.0L795.0 2823.0L693.6 2925.0L592.2 2946.0L490.9 2975.0L389.5 3041.0Z" fill="#F5A050" fill-opacity="0.3"/>
<path d="M389.5 3005.0L490.9 2935.0L592.2 2918.0L693.6 2898.0L795.0 2793.0L896.3 3129.0L997.7 2811.0L1099.1 2764.0L1200.4 2776.4L1301.8 2722.7L1403.2 2753.5L1504.5 2809.0L1605.9 2761.6L1707.3 2772.0L1808.6 2752.0L1910.0 2738.5L1910.0 2804.5L1808.6 2822.0L1707.3 2831.0L1605.9 2821.6L1504.5 2865.0L1403.2 2814.5L1301.8 2781.7L1200.4 2833.4L1099.1 2813.0L997.7 2856.0L896.3 3171.0L795.0 2823.0L693.6 2925.0L592.2 2946.0L490.9 2975.0L389.5 3041.0Z" fill="#F5A050" fill-opacity="0.29"/>
<path d="M389.5 2929.0L490.9 2855.0L592.2 2829.0L693.6 2777.0L795.0 2667.0L896.3 3014.0L997.7 2634.0L1099.1 2581.0L1200.4 2551.5L1301.8 2480.0L1403.2 2493.0L1504.5 2483.5L1605.9 2441.5L1707.3 2444.6L1808.6 2354.0L1910.0 2385.0" fill="none" stroke="#406BB5" stroke-width="6" stroke-dasharray="30 3.2 17.5 3.2" stroke-linejoin="miter"/>
<path d="M389.5 2946.0L490.9 2898.0L592.2 2866.5L693.6 2806.0L795.0 2694.0L896.3 3020.0L997.7 2708.0L1099.1 2656.5L1200.4 2675.0L1301.8 2619.0L1403.2 2671.4L1504.5 2695.0L1605.9 2614.5L1707.3 2620.7L1808.6 2509.5L1910.0 2470.0" fill="none" stroke="#40B963" stroke-width="6" stroke-dasharray="9 4.5" stroke-linejoin="miter"/>
<path d="M389.5 2940.0L490.9 2903.0L592.2 2893.0L693.6 2847.0L795.0 2739.0L896.3 3061.0L997.7 2778.0L1099.1 2753.0L1200.4 2741.0L1301.8 2700.0L1403.2 2725.0L1504.5 2750.5L1605.9 2697.0L1707.3 2705.0L1808.6 2661.0L1910.0 2630.0" fill="none" stroke="#A8272E" stroke-width="6" stroke-dasharray="31 23" stroke-linejoin="miter"/>
<path d="M389.5 3005.0L490.9 2935.0L592.2 2918.0L693.6 2898.0L795.0 2793.0L896.3 3129.0L997.7 2811.0L1099.1 2764.0L1200.4 2776.4L1301.8 2722.7L1403.2 2753.5L1504.5 2809.0L1605.9 2761.6L1707.3 2772.0L1808.6 2752.0L1910.0 2738.5" fill="none" stroke="#F7923A" stroke-width="6" stroke-linejoin="miter"/>
<rect x="389.5" y="2152.3" width="1520.5" height="1200.6" fill="none" stroke="#262626" stroke-width="2.6"/>
<path d="M389.5 3352.9v-14M389.5 2152.3v14M592.2 3352.9v-14M592.2 2152.3v14M795.0 3352.9v-14M795.0 2152.3v14M997.7 3352.9v-14M997.7 2152.3v14M1200.4 3352.9v-14M1200.4 2152.3v14M1403.2 3352.9v-14M1403.2 2152.3v14M1605.9 3352.9v-14M1605.9 2152.3v14M1808.6 3352.9v-14M1808.6 2152.3v14M389.5 3352.9h14M1910.0 3352.9h-14M389.5 3111.0h14M1910.0 3111.0h-14M389.5 2872.7h14M1910.0 2872.7h-14M389.5 2630.0h14M1910.0 2630.0h-14M389.5 2390.5h14M1910.0 2390.5h-14M389.5 2152.3h14M1910.0 2152.3h-14" stroke="#262626" stroke-width="2.6" fill="none"/>
<text x="366" y="3373.9" text-anchor="end" font-family="'Liberation Sans', Arial, sans-serif" font-size="56" fill="#262626">0.7</text>
<text x="366" y="3132.0" text-anchor="end" font-family="'Liberation Sans', Arial, sans-serif" font-size="56" fill="#262626">0.8</text>
<text x="366" y="2893.7" text-anchor="end" font-family="'Liberation Sans', Arial, sans-serif" font-size="56" fill="#262626">0.9</text>
<text x="366" y="2651.0" text-anchor="end" font-family="'Liberation Sans', Arial, sans-serif" font-size="56" fill="#262626">1</text>
<text x="366" y="2411.5" text-anchor="end" font-family="'Liberation Sans', Arial, sans-serif" font-size="56" fill="#262626">1.1</text>
<text x="366" y="2173.3" text-anchor="end" font-family="'Liberation Sans', Arial, sans-serif" font-size="56" fill="#262626">1.2</text>
<text x="388.0" y="3431.4" text-anchor="middle" font-family="'Liberation Sans', Arial, sans-serif" font-size="56" fill="#262626">2004</text>
<text x="590.7" y="3431.4" text-anchor="middle" font-family="'Liberation Sans', Arial, sans-serif" font-size="56" fill="#262626">2006</text>
<text x="793.5" y="3431.4" text-anchor="middle" font-family="'Liberation Sans', Arial, sans-serif" font-size="56" fill="#262626">2008</text>
<text x="996.2" y="3431.4" text-anchor="middle" font-family="'Liberation Sans', Arial, sans-serif" font-size="56" fill="#262626">2010</text>
<text x="1198.9" y="3431.4" text-anchor="middle" font-family="'Liberation Sans', Arial, sans-serif" font-size="56" fill="#262626">2012</text>
<text x="1401.7" y="3431.4" text-anchor="middle" font-family="'Liberation Sans', Arial, sans-serif" font-size="56" fill="#262626">2014</text>
<text x="1604.4" y="3431.4" text-anchor="middle" font-family="'Liberation Sans', Arial, sans-serif" font-size="56" fill="#262626">2016</text>
<text x="1807.1" y="3431.4" text-anchor="middle" font-family="'Liberation Sans', Arial, sans-serif" font-size="56" fill="#262626">2018</text>
<text x="1915.5" y="3486.9" text-anchor="end" font-family="'Liberation Sans', Arial, sans-serif" font-size="61" letter-spacing="2.2" fill="#262626" stroke="#262626" stroke-width="0.4">Year</text>
<text transform="translate(317 2098.2) scale(1.15 1)" font-family="'Liberation Serif', 'Times New Roman', serif" font-style="italic" font-size="58" fill="#555">β</text>
<text x="351" y="2128.6" font-family="'Liberation Sans', Arial, sans-serif" font-size="50" fill="#262626">average scale</text>
<line x1="1469.7" y1="2325.2" x2="1482.8" y2="2421.6" stroke="#426CB6" stroke-width="6.4"/><path d="M1485.0 2437.5L1470.4 2421.3L1494.7 2418.0Z" fill="#426CB6"/>
<line x1="1473.4" y1="2585.8" x2="1480.1" y2="2643.3" stroke="#40B963" stroke-width="6.4"/><path d="M1482.0 2659.2L1467.7 2642.7L1492.1 2639.9Z" fill="#40B963"/>
<line x1="1274.2" y1="2929.5" x2="1270.3" y2="2817.7" stroke="#F7923A" stroke-width="6.4"/><path d="M1269.7 2801.7L1282.6 2819.3L1258.1 2820.1Z" fill="#F7923A"/>
<line x1="1974.8" y1="2855.3" x2="1904.0" y2="2657.4" stroke="#A8272E" stroke-width="6.4"/><path d="M1898.6 2642.3L1916.2 2655.1L1893.1 2663.4Z" fill="#A8272E"/>
<text x="1253" y="2311.8" font-family="'Liberation Sans', Arial, sans-serif" font-size="56.2" fill="#0d0d0d" stroke="#0d0d0d" stroke-width="0.7">Eastern region</text>
<text x="1297.3" y="2575.5" font-family="'Liberation Sans', Arial, sans-serif" font-size="56.2" fill="#0d0d0d" stroke="#0d0d0d" stroke-width="0.7">Central region</text>
<text x="1031.2" y="2992" font-family="'Liberation Sans', Arial, sans-serif" font-size="56.2" fill="#0d0d0d" stroke="#0d0d0d" stroke-width="0.7">Northeastern region</text>
<text x="1700.9" y="2911.7" font-family="'Liberation Sans', Arial, sans-serif" font-size="56.2" fill="#0d0d0d" stroke="#0d0d0d" stroke-width="0.7">Western region</text>
<text x="1115" y="3614.7" text-anchor="middle" font-family="'Liberation Serif', 'Times New Roman', serif" font-size="84" fill="#000">(<tspan font-weight="bold">b</tspan>)</text>
</g>
</svg>
</body></html>
